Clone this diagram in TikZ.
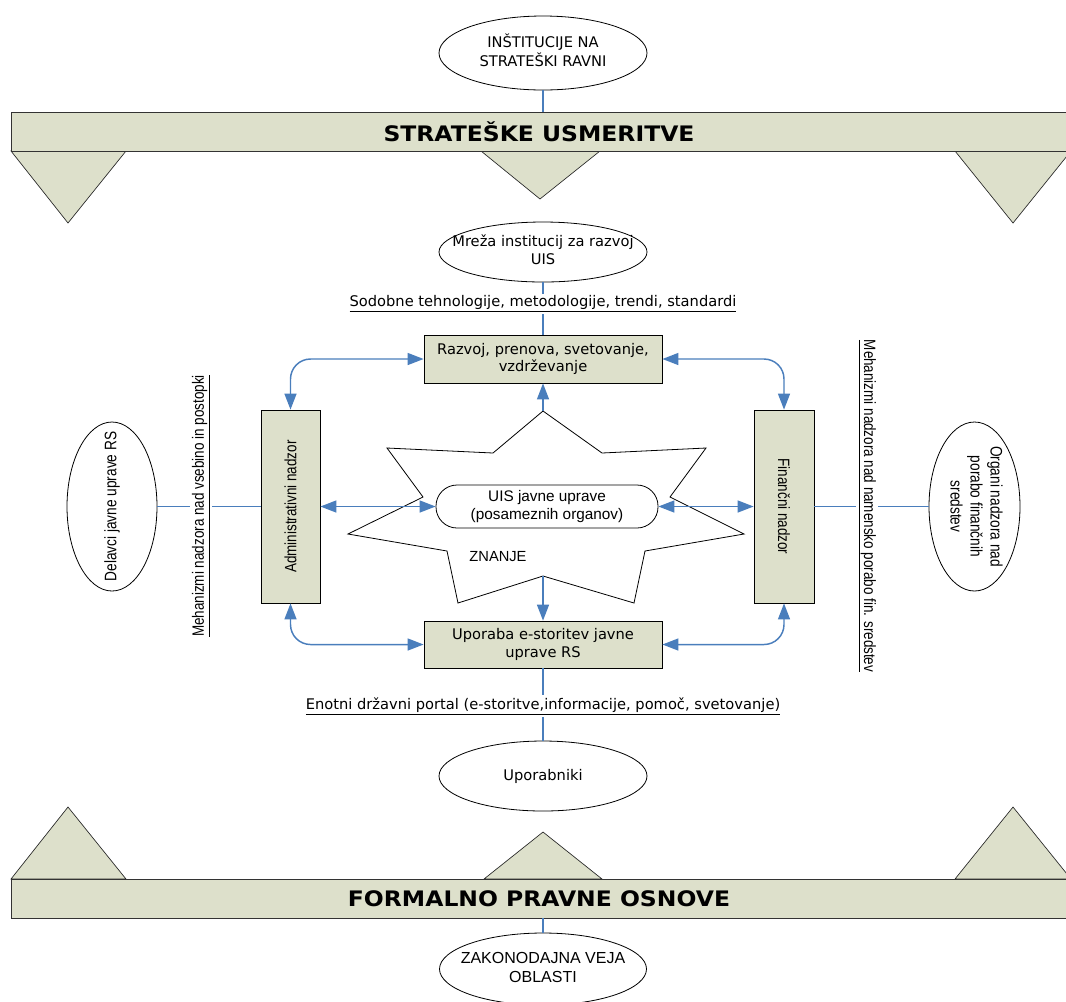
\documentclass[tikz,border=0pt]{standalone}
\usepackage{graphicx}
\usepackage{fontspec}
\setmainfont{DejaVu Sans}
\newfontfamily\arialfont{Liberation Sans}
\newfontfamily\narrowfont{Liberation Sans}[FakeStretch=0.82]
\newfontfamily\bannerfont{DejaVu Sans}[FakeStretch=1.1]
\usetikzlibrary{shapes.geometric,arrows.meta}

\definecolor{boxfill}{RGB}{221,224,203}
\definecolor{linkblue}{RGB}{74,126,188}

% text of zero size, centred on the node centre, so the ellipse keeps its given size
\newcommand{\ctrtext}[1]{\makebox[0pt]{\raisebox{\dimexpr(\depth-\height)/2\relax}[0pt][0pt]{#1}}}
\newcommand{\lines}[1]{\begin{tabular}[b]{@{}c@{}}#1\end{tabular}}

\tikzset{
  oval/.style={ellipse, draw=black, line width=0.6pt, fill=white, inner sep=0pt,
    font=\fontsize{11}{13}\selectfont},
  arialoval/.style={oval, font=\arialfont\fontsize{12}{14.5}\selectfont},
  narrowoval/.style={oval, font=\narrowfont\fontsize{12.5}{15}\selectfont},
  procbox/.style={rectangle, draw=black, line width=0.6pt, fill=boxfill, inner sep=0pt,
    align=center, font=\fontsize{11}{13}\selectfont},
  vbox/.style={procbox, font=\narrowfont\fontsize{12.3}{14}\selectfont},
  banner/.style={rectangle, draw=black!80, line width=0.6pt, fill=boxfill, inner sep=0pt,
    font=\bannerfont\bfseries\fontsize{16}{18}\selectfont},
  wedge/.style={draw=black!85, line width=0.5pt, fill=boxfill},
  link/.style={draw=linkblue, line width=1.1pt},
  arr/.style={link, {Triangle[length=12pt,width=9pt]}-{Triangle[length=12pt,width=9pt]}},
  fwd/.style={link, -{Triangle[length=12pt,width=9pt]}},
  linelabel/.style={fill=white, inner sep=1.5pt, font=\fontsize{11}{13}\selectfont},
  sidelabel/.style={fill=white, inner sep=1.5pt, font=\narrowfont\fontsize{12.3}{14}\selectfont},
}

\begin{document}
\begin{tikzpicture}[x=0.75pt, y=-0.75pt]
\useasboundingbox (0,0) rectangle (1066,1001);
\clip (0,0) rectangle (1066,1001);

% wedges hanging from the strategic banner
\filldraw[wedge] (11,151) -- (126,151) -- (68,223) -- cycle;
\filldraw[wedge] (481,151) -- (600,151) -- (540,199) -- cycle;
\filldraw[wedge] (955,151) -- (1071,151) -- (1013,223) -- cycle;
% wedges standing on the legal banner
\filldraw[wedge] (11,879) -- (126,879) -- (68,807) -- cycle;
\filldraw[wedge] (484,879) -- (602,879) -- (543,832) -- cycle;
\filldraw[wedge] (955,879) -- (1071,879) -- (1013,807) -- cycle;

% banners
\node[banner, minimum width=1056*0.75pt, minimum height=39*0.75pt] (topbanner) at (539,131.5) {STRATEŠKE USMERITVE};
\node[banner, minimum width=1056*0.75pt, minimum height=39*0.75pt] (botbanner) at (539,898.5) {FORMALNO PRAVNE OSNOVE};

% ellipses
\node[oval, minimum width=208*0.75pt, minimum height=74*0.75pt] (inst) at (543,53)
  {\ctrtext{\lines{INŠTITUCIJE NA\\STRATEŠKI RAVNI}}};
\node[oval, minimum width=208*0.75pt, minimum height=60*0.75pt] (mreza) at (543,252)
  {\ctrtext{\lines{Mreža institucij za razvoj\\UIS}}};
\node[oval, minimum width=208*0.75pt, minimum height=70*0.75pt] (uporabniki) at (543,776)
  {\ctrtext{Uporabniki}};
\node[arialoval, minimum width=207*0.75pt, minimum height=72*0.75pt] (zak) at (543,969)
  {\ctrtext{\lines{ZAKONODAJNA VEJA\\OBLASTI}}};
\node[narrowoval, minimum width=90*0.75pt, minimum height=169*0.75pt] (delavci) at (112,506.5)
  {\ctrtext{\rotatebox{90}{Delavci javne uprave RS}}};
\node[narrowoval, minimum width=91*0.75pt, minimum height=169*0.75pt] (organi) at (974.5,506.5)
  {\ctrtext{\rotatebox{-90}{\begin{tabular}{@{}c@{}}Organi nadzora nad\\porabo finančnih\\sredstev\end{tabular}}}};

% the knowledge star
\coordinate (startop) at (543,411);
\coordinate (starbot) at (543,576);
\filldraw[draw=black, line width=0.6pt, fill=white]
  (startop) -- (493,453) -- (387,448) -- (423,497) -- (348,534) -- (447,551)
  -- (458,603) -- (starbot) -- (634,603) -- (645,551) -- (744,534) -- (670,497)
  -- (706,448) -- (602,453) -- cycle;
\node[font=\arialfont\fontsize{11}{13}\selectfont, inner sep=0pt] (znanje) at (498,557) {ZNANJE};

% process boxes
\node[procbox, minimum width=238*0.75pt, minimum height=48*0.75pt] (razvoj) at (543,359)
  {Razvoj, prenova, svetovanje,\\vzdrževanje};
\node[procbox, minimum width=238*0.75pt, minimum height=47*0.75pt] (uporaba) at (543,644.5)
  {Uporaba e-storitev javne\\uprave RS};
\node[vbox, minimum width=59*0.75pt, minimum height=193*0.75pt] (adm) at (290.5,506.5)
  {\rotatebox{90}{Administrativni nadzor}};
\node[vbox, minimum width=60*0.75pt, minimum height=193*0.75pt] (fin) at (784,506.5)
  {\rotatebox{-90}{Finančni nadzor}};
\node[rectangle, rounded corners=21*0.75pt, draw=black, line width=0.6pt, fill=white,
  minimum width=222*0.75pt, minimum height=43*0.75pt, inner sep=0pt, align=center,
  font=\arialfont\fontsize{11.5}{13}\selectfont] (uis) at (547,506.5)
  {UIS javne uprave\\(posameznih organov)};

% plain links
\draw[link] (inst.south) -- (inst.south |- topbanner.north);
\draw[link] (mreza.south) -- (razvoj.north);
\draw[link] (uporaba.south) -- (uporabniki.north);
\draw[link] (zak.north |- botbanner.south) -- (zak.north);
\draw[link] (delavci.east) -- (adm.west);
\draw[link] (fin.east) -- (organi.west);

% arrows
\draw[fwd] (startop) -- (razvoj.south);
\draw[fwd] (starbot) -- (uporaba.north);
\draw[arr] (adm.east) -- (uis.west);
\draw[arr] (uis.east) -- (fin.west);
\draw[arr, rounded corners=15pt] (adm.north) |- (razvoj.west);
\draw[arr, rounded corners=15pt] (fin.north) |- (razvoj.east);
\draw[arr, rounded corners=15pt] (adm.south) |- (uporaba.west);
\draw[arr, rounded corners=15pt] (fin.south) |- (uporaba.east);

% labels sitting on the links
\node[linelabel] (sodobne) at (543,304) {\underline{Sodobne tehnologije, metodologije, trendi, standardi}};
\node[linelabel] (enotni) at (543,706) {\underline{Enotni državni portal (e-storitve,informacije, pomoč, svetovanje)}};
\node[sidelabel] (mehl) at (201,506) {\rotatebox{90}{\underline{Mehanizmi nadzora nad vsebino in postopki}}};
\node[sidelabel] (mehr) at (867,506) {\rotatebox{-90}{\underline{Mehanizmi nadzora nad namensko porabo fin. sredstev}}};
\end{tikzpicture}
\end{document}
